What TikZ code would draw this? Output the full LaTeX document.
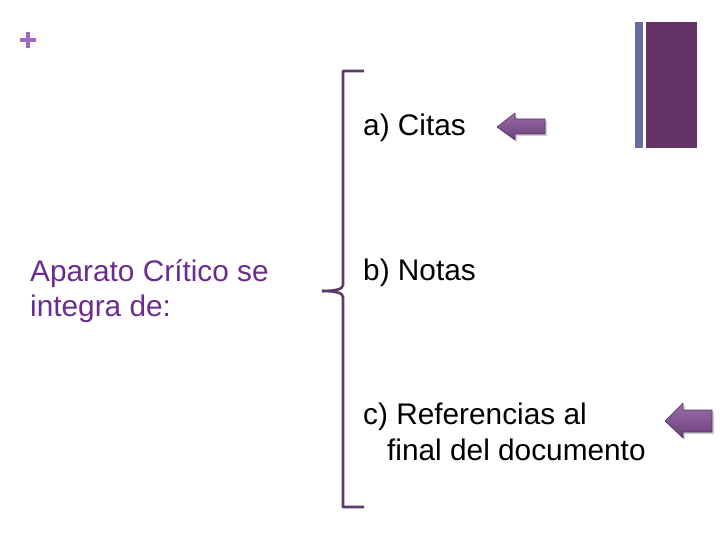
\documentclass[tikz,border=0pt]{standalone}
\usepackage{fontspec}
\setmainfont{Liberation Sans}
\definecolor{txtpurple}{HTML}{6A2C91}
\definecolor{bracec}{HTML}{5E3A6E}
\definecolor{barthin}{HTML}{6A6A9E}
\definecolor{barwide}{HTML}{663366}
\definecolor{plusc}{HTML}{A066C0}
\definecolor{arrtop}{HTML}{9A70A8}
\definecolor{arrbot}{HTML}{6B3F7B}
\tikzset{
  lbl/.style={anchor=base west, inner sep=0pt, font=\fontsize{29.8}{35.5}\selectfont},
  bracestyle/.style={draw=bracec, line width=2.6pt, line join=round},
  arrowshape/.style={top color=arrtop, bottom color=arrbot, draw=arrbot!80!black, line width=0.6pt, line join=round},
  arrowshadow/.style={fill=black!18, draw=none}
}
\begin{document}
\begin{tikzpicture}[x=1pt,y=-1pt]
\useasboundingbox (0,0) rectangle (720,540);
% plus sign
\fill[plusc] (20,38) rectangle (36,42.5);
\fill[plusc] (25.8,32) rectangle (30.2,48);
% bars
\fill[barthin] (635,22) rectangle (643,148);
\fill[barwide] (646,22) rectangle (697,148);
% texts
\node[lbl, text=txtpurple] (ap1) at (30,281) {Aparato Crítico se};
\node[lbl, text=txtpurple] (ap2) at (30,316) {integra de:};
\node[lbl] (a) at (363,136) {a) Citas};
\node[lbl] (b) at (363,280) {b) Notas};
\node[lbl] (c1) at (363,424) {c) Referencias al};
\node[lbl] (c2) at (387,460) {final del documento};
% brace
\draw[bracestyle] (364,71) -- (343,71) -- (343,285)
  .. controls (343,289) and (336,291) .. (322,291);
\draw[bracestyle] (322,291) .. controls (336,291) and (343,293) .. (343,297) -- (343,507) -- (364,507);
% arrow 1
\fill[arrowshadow] (499,129) -- (517,115) -- (517,121) -- (547,121) -- (547,136) -- (517,136) -- (517,142) -- cycle;
\path[arrowshape] (497,127) -- (515,113) -- (515,119) -- (545,119) -- (545,134) -- (515,134) -- (515,140) -- cycle;
% arrow 2
\fill[arrowshadow] (667,423) -- (685,405) -- (685,412) -- (714,412) -- (714,434) -- (685,434) -- (685,440) -- cycle;
\path[arrowshape] (665,421) -- (683,403) -- (683,410) -- (712,410) -- (712,432) -- (683,432) -- (683,438) -- cycle;
\end{tikzpicture}
\end{document}
